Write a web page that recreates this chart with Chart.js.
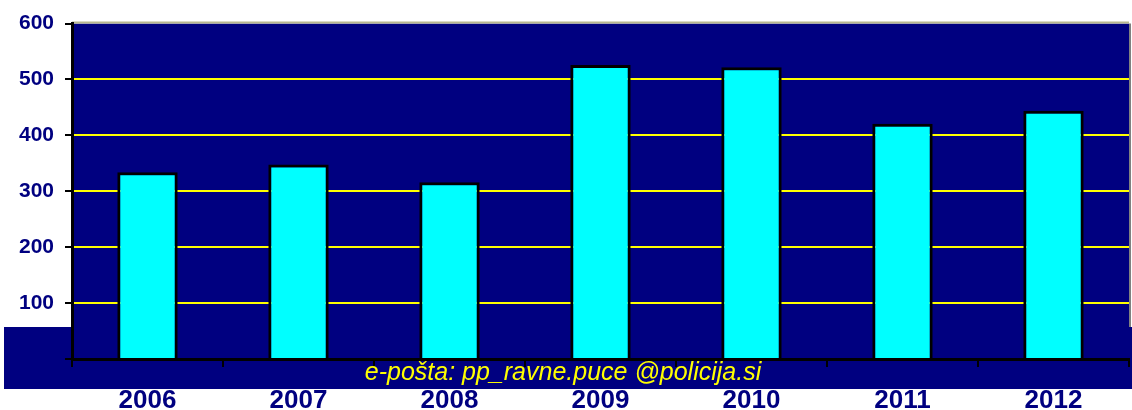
<!DOCTYPE html>
<html>
<head>
<meta charset="utf-8">
<script src="https://cdn.jsdelivr.net/npm/chart.js@4/dist/chart.umd.min.js"></script>
<style>
  html, body { margin: 0; padding: 0; background: #fff; }
  #wrap { width: 1132px; height: 410px; position: relative; }
</style>
</head>
<body>
<div id="wrap"><canvas id="chart1"></canvas></div>
<script>
let years = ["2006", "2007", "2008", "2009", "2010", "2011", "2012"];
let counts = [334, 348, 316, 526, 522, 421, 444];
let footerText = "e-pošta: pp_ravne.puce @policija.si";

let navy = "#000080";

// navy background of the plot and the band with the e-mail line
let backdrop = {
    id: "backdrop",
    beforeDraw(chart) {
        let ctx = chart.ctx;
        let a = chart.chartArea;
        ctx.save();
        ctx.fillStyle = navy;
        ctx.fillRect(4, 327, chart.width - 4, 62);
        ctx.fillRect(a.left, a.top, a.right - a.left, a.bottom - a.top);
        ctx.strokeStyle = "#b8b890";
        ctx.lineWidth = 2;
        ctx.beginPath();
        ctx.moveTo(a.left, a.top - 1);
        ctx.lineTo(a.right, a.top - 1);
        ctx.stroke();
        ctx.strokeStyle = "#808080";
        ctx.beginPath();
        ctx.moveTo(a.right + 1, a.top);
        ctx.lineTo(a.right + 1, 327);
        ctx.stroke();
        ctx.restore();
    },
    afterDraw(chart) {
        let ctx = chart.ctx;
        ctx.save();
        ctx.fillStyle = "#ffff00";
        ctx.font = "italic 25px 'Liberation Sans', Arial, sans-serif";
        ctx.textAlign = "center";
        ctx.textBaseline = "alphabetic";
        ctx.fillText(footerText, 563, 380);
        ctx.restore();
    }
};

new Chart("chart1", {
    type: "bar",
    data: {
        labels: years,
        datasets: [{
            data: counts,
            backgroundColor: "#00ffff",
            borderColor: "#000000",
            borderWidth: 3,
            borderSkipped: "bottom",
            barPercentage: 0.4,
            categoryPercentage: 1.0
        }]
    },
    options: {
        responsive: true,
        maintainAspectRatio: false,
        animation: false,
        layout: { padding: { top: 18, right: 3, left: 0, bottom: 0 } },
        plugins: {
            legend: { display: false },
            tooltip: { enabled: false }
        },
        scales: {
            x: {
                grid: {
                    offset: true,
                    drawOnChartArea: false,
                    tickLength: 8,
                    tickColor: "#000000",
                    lineWidth: 2
                },
                border: { color: "#000000", width: 3 },
                ticks: {
                    color: navy,
                    padding: 18,
                    font: { family: "'Liberation Sans', Arial, sans-serif", size: 26, weight: "bold" }
                },
                afterFit(s) { s.height = 51; }
            },
            y: {
                min: 0,
                max: 600,
                grid: {
                    color: c => (c.tick && (c.tick.value === 0 || c.tick.value === 600)) ? "rgba(0,0,0,0)" : "#ffff00",
                    tickColor: "#000000",
                    tickLength: 7,
                    lineWidth: 2
                },
                border: { color: "#000000", width: 3 },
                ticks: {
                    stepSize: 100,
                    color: navy,
                    padding: 11,
                    font: { family: "'Liberation Sans', Arial, sans-serif", size: 21, weight: "bold" }
                },
                afterFit(s) { s.width = 72; }
            }
        }
    },
    plugins: [backdrop]
});
</script>
</body>
</html>
